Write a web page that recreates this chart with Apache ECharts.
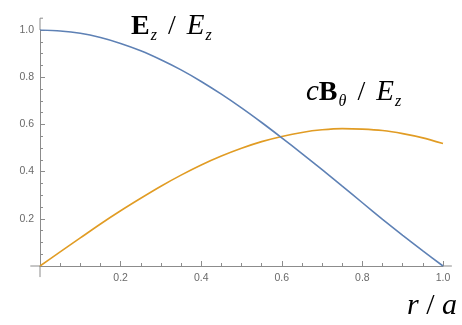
<!DOCTYPE html>
<html>
<head>
<meta charset="utf-8">
<script src="https://cdn.jsdelivr.net/npm/echarts@6/dist/echarts.min.js"></script>
<style>
html,body{margin:0;padding:0;background:#fff;}
#chart{width:462px;height:325px;}
</style>
</head>
<body>
<div id="chart"></div>
<script>
// r/a sample points
var rVals  = [0, 0.05, 0.1, 0.15, 0.2, 0.25, 0.3, 0.35, 0.4, 0.45, 0.5,
              0.55, 0.6, 0.65, 0.7, 0.75, 0.8, 0.85, 0.9, 0.95, 1.0];
// E_z / E_z (blue)
var ezVals = [1.000, 0.996, 0.986, 0.968, 0.943, 0.912, 0.874, 0.831, 0.782, 0.728, 0.670,
              0.608, 0.543, 0.476, 0.408, 0.338, 0.268, 0.198, 0.130, 0.064, 0.000];
// cB_theta / E_z (orange)
var cbVals = [0.000, 0.060, 0.119, 0.178, 0.234, 0.287, 0.338, 0.385, 0.428, 0.466, 0.499,
              0.527, 0.549, 0.566, 0.577, 0.582, 0.580, 0.574, 0.561, 0.543, 0.519];

var axisColor = '#8c8c8c';
var labelColor = '#6a6a6a';

function pairs(xs, ys){
  var out = [];
  for(var i = 0; i < xs.length; i++){ out.push([xs[i], ys[i]]); }
  return out;
}
function fmt(v){
  return v === 0 ? '' : v.toFixed(1);
}

var chart = echarts.init(document.getElementById('chart'), null, {renderer:'canvas'});

var serifRich = {
  b: {fontFamily:'Liberation Serif', fontWeight:'bold', fontSize:28, color:'#000'},
  i: {fontFamily:'Liberation Serif', fontStyle:'italic', fontSize:29, color:'#000'},
  n: {fontFamily:'Liberation Serif', fontSize:28, color:'#000', padding:[0,4,0,3]},
  s: {fontFamily:'Liberation Serif', fontStyle:'italic', fontSize:16, color:'#000', padding:[18,1,0,1]}
};

chart.setOption({
  animation: false,
  backgroundColor: '#fff',
  grid: {left:40, right:19, top:30, bottom:59},
  xAxis: {
    type:'value', min:0, max:1, interval:0.2,
    axisLine:{lineStyle:{color:axisColor, width:1}},
    axisTick:{inside:true, length:5, lineStyle:{color:axisColor}},
    minorTick:{show:true, splitNumber:4, length:3, lineStyle:{color:axisColor}},
    splitLine:{show:false},
    axisLabel:{color:labelColor, fontSize:10.5, fontFamily:'Liberation Sans', margin:7, formatter:fmt}
  },
  yAxis: {
    type:'value', min:0, max:1, interval:0.2,
    axisLine:{lineStyle:{color:axisColor, width:1}},
    axisTick:{inside:true, length:5, lineStyle:{color:axisColor}},
    minorTick:{show:true, splitNumber:4, length:3, lineStyle:{color:axisColor}},
    splitLine:{show:false},
    axisLabel:{color:labelColor, fontSize:10.5, fontFamily:'Liberation Sans', margin:6, formatter:fmt}
  },
  series: [
    {type:'line', data:pairs(rVals, ezVals), smooth:0.25, showSymbol:false,
     lineStyle:{color:'#5e81b5', width:1.6}, z:3},
    {type:'line', data:pairs(rVals, cbVals), smooth:0.25, showSymbol:false,
     lineStyle:{color:'#e19c24', width:1.6}, z:2}
  ]
});

// Mathematica-style axis overhangs, placed through the grid's own scale
var p = function(x, y){ return chart.convertToPixel({gridIndex:0}, [x, y]); };
var o = p(0, 0), xl = p(-0.024, 0), xr = p(1.022, 0), yb = p(0, -0.047), yt = p(0, 1.05);
var line = function(a, b){
  return {type:'line', silent:true, shape:{x1:a[0], y1:a[1], x2:b[0], y2:b[1]},
          style:{stroke:axisColor, lineWidth:1}};
};
chart.setOption({
  graphic: [
    line(xl, o), line(p(1, 0), xr), line(yb, o), line(p(0, 1), yt),
    line(yt, [yt[0] + 3, yt[1]]),
    {type:'text', left:131, top:12, silent:true,
     style:{text:'{b|E}{s|z}{n| / }{i|E}{s|z}', rich:serifRich}},
    {type:'text', left:306, top:78, silent:true,
     style:{text:'{i|c}{b|B}{s|θ}{n| / }{i|E}{s|z}', rich:serifRich}},
    {type:'text', left:407, top:291, silent:true,
     style:{text:'{i|r}{n| / }{i|a}', rich:{
       i:{fontFamily:'Liberation Serif', fontStyle:'italic', fontSize:30, color:'#000'},
       n:{fontFamily:'Liberation Serif', fontSize:30, color:'#000'}}}}
  ]
});
</script>
</body>
</html>
